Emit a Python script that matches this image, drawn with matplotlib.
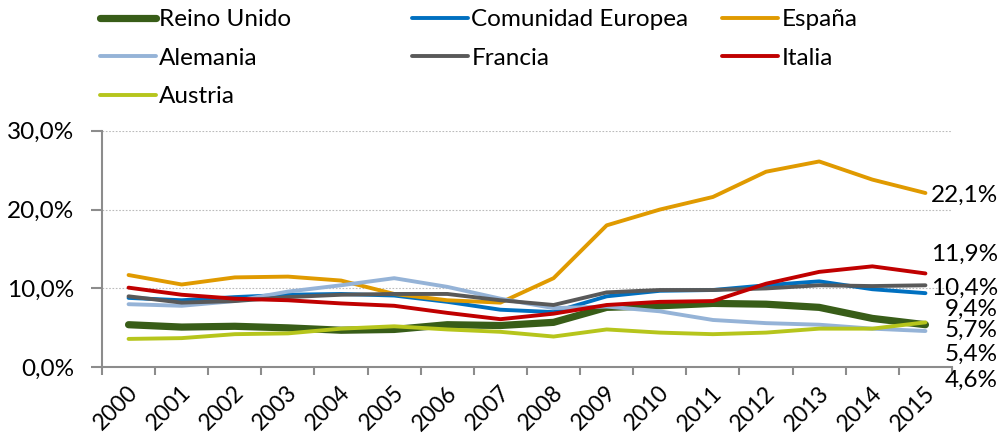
import matplotlib
matplotlib.use("Agg")
import matplotlib.pyplot as plt
import matplotlib.transforms as mtransforms
from matplotlib.ticker import FuncFormatter, FixedLocator

plt.rcParams['font.family'] = ['Lato', 'DejaVu Sans']

years = [str(y) for y in range(2000, 2016)]
series_names = ["Reino Unido", "Comunidad Europea", "España", "Alemania", "Francia", "Italia", "Austria"]
reino_unido = [5.4, 5.1, 5.2, 5.0, 4.7, 4.8, 5.4, 5.3, 5.7, 7.6, 7.8, 8.1, 8.0, 7.6, 6.2, 5.4]
comunidad_europea = [8.8, 8.5, 8.9, 9.2, 9.3, 9.1, 8.3, 7.3, 7.0, 9.0, 9.7, 9.8, 10.4, 10.9, 9.9, 9.4]
espana = [11.7, 10.5, 11.4, 11.5, 11.0, 9.3, 8.5, 8.2, 11.3, 18.0, 20.0, 21.6, 24.8, 26.1, 23.8, 22.1]
alemania = [8.0, 7.8, 8.4, 9.6, 10.4, 11.3, 10.2, 8.7, 7.5, 7.7, 7.1, 6.0, 5.6, 5.4, 4.9, 4.6]
francia = [9.0, 8.2, 8.4, 8.9, 9.2, 9.3, 9.3, 8.5, 7.9, 9.5, 9.8, 9.8, 10.0, 10.4, 10.3, 10.4]
italia = [10.1, 9.2, 8.7, 8.5, 8.1, 7.8, 6.9, 6.1, 6.8, 7.9, 8.3, 8.4, 10.6, 12.1, 12.8, 11.9]
austria = [3.6, 3.7, 4.2, 4.3, 4.9, 5.2, 4.8, 4.5, 3.9, 4.8, 4.4, 4.2, 4.4, 4.9, 4.9, 5.7]
end_labels = ["22,1%", "11,9%", "10,4%", "9,4%", "5,7%", "5,4%", "4,6%"]

all_series = [reino_unido, comunidad_europea, espana, alemania, francia, italia, austria]
colors = ["#385D18", "#0070C0", "#E09A00", "#95B3D7", "#595959", "#C00000", "#B6C51C"]
widths = [5.2, 2.8, 2.8, 2.8, 2.8, 2.8, 2.8]
# y positions (data units) where the end labels sit
label_y = [21.8, 14.3, 10.0, 7.35, 4.7, 1.65, -1.65]
fs = 17.5

fig = plt.figure(figsize=(10.03, 4.41), dpi=100)
ax = fig.add_axes([102/1003, 1-367.3/441, 850/1003, (367.3-130.7)/441])

x = list(range(len(years)))
lines = []
for vals, c, w, name in zip(all_series, colors, widths, series_names):
    ln, = ax.plot(x, vals, color=c, lw=w, solid_capstyle='round', solid_joinstyle='round', label=name)
    lines.append(ln)

ax.set_xlim(-0.5, 15.5)
ax.set_ylim(0, 30)
ax.set_yticks([0, 10, 20, 30])
ax.yaxis.set_major_formatter(FuncFormatter(lambda v, p: f"{v:.1f}%".replace('.', ',')))
ax.grid(axis='y', color='#BBBBBB', linestyle=(0, (1.5, 1.5)), lw=0.8)
ax.set_axisbelow(True)

ax.set_xticks(x)
ax.set_xticklabels(years, rotation=45, ha='right', va='center', rotation_mode='anchor')
ax.tick_params(axis='x', which='major', length=0, pad=16, labelsize=16.5)
shift = mtransforms.ScaledTranslation(6/100, 0, fig.dpi_scale_trans)
for lab in ax.get_xticklabels():
    lab.set_transform(lab.get_transform() + shift)
ax.xaxis.set_minor_locator(FixedLocator([i - 0.5 for i in range(len(years) + 1)]))
ax.tick_params(axis='x', which='minor', length=6, width=1.5, color='#8C8C8C')
ax.tick_params(axis='y', length=8, width=1.5, color='#8C8C8C', labelsize=fs, pad=12)

for s in ['top', 'right']:
    ax.spines[s].set_visible(False)
for s in ['left', 'bottom']:
    ax.spines[s].set_color('#8C8C8C')
    ax.spines[s].set_linewidth(1.5)

# end-of-line value labels (figure x, data y)
lab_tr = mtransforms.blended_transform_factory(fig.transFigure, ax.transData)
for txt, yy in zip(end_labels, label_y):
    ax.text(998/1003, yy, txt, transform=lab_tr, fontsize=fs, ha='right', va='center')

# legend: three columns placed as in the original
col_groups = [[0, 3, 6], [1, 4], [2, 5]]
col_x = [95/1003, 407/1003, 717/1003]
for grp, cx in zip(col_groups, col_x):
    fig.legend([lines[i] for i in grp], [series_names[i] for i in grp],
               loc='upper left', bbox_to_anchor=(cx, 0.9896), frameon=False,
               fontsize=fs, handlelength=2.3, handletextpad=0.15,
               labelspacing=0.72, borderaxespad=0, borderpad=0.2)

fig.savefig("out.png", dpi=100)
